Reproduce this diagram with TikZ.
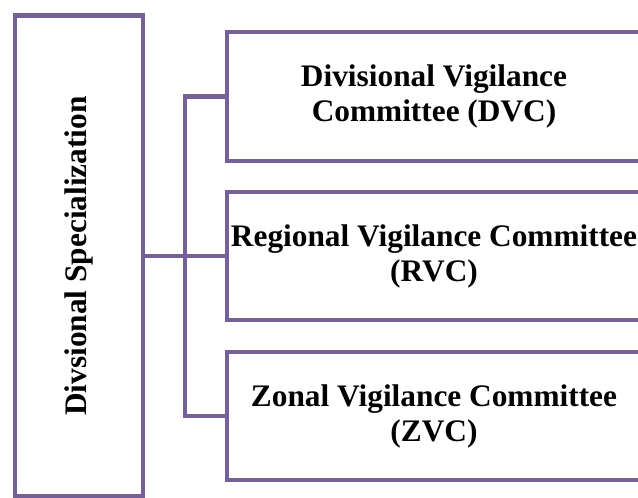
\documentclass[tikz,border=0pt]{standalone}
\usepackage{fontspec}
\setmainfont{Liberation Serif}
\definecolor{boxpurple}{RGB}{118,96,152}
\begin{document}
\begin{tikzpicture}[x=0.75pt, y=-0.75pt,
    box/.style={draw=boxpurple, line width=3.6pt, fill=white, align=center, inner sep=0pt,
        font=\fontsize{23.5}{26.25}\selectfont\bfseries},
    link/.style={draw=boxpurple, line width=3.6pt}]
    \clip (0,0) rectangle (638,498);

    \node[box, rotate=90, minimum width=360.75pt, minimum height=96pt] (spec) at (79,256) {Divsional Specialization};
    \node[box, minimum width=310.5pt, minimum height=96.75pt] (dvc) at (434,96.5) {Divisional Vigilance\\Committee (DVC)};
    \node[box, minimum width=310.5pt, minimum height=96pt] (rvc) at (434,256) {Regional Vigilance Committee\\(RVC)};
    \node[box, minimum width=310.5pt, minimum height=96pt] (zvc) at (434,416) {Zonal Vigilance Committee\\(ZVC)};

    \coordinate (trunk) at (185,256);
    \draw[link] (spec.south) -- (rvc.west);
    \draw[link] (dvc.west) -| (trunk) |- (zvc.west);
\end{tikzpicture}
\end{document}
